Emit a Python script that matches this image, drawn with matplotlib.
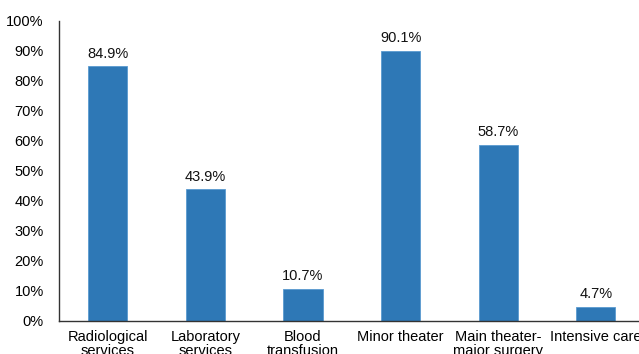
import matplotlib
matplotlib.use("Agg")
import matplotlib.pyplot as plt
from matplotlib.ticker import PercentFormatter

categories = ["Radiological\nservices", "Laboratory\nservices", "Blood\ntransfusion",
              "Minor theater", "Main theater-\nmajor surgery", "Intensive care"]
values = [84.9, 43.9, 10.7, 90.1, 58.7, 4.7]
yticks = [0, 10, 20, 30, 40, 50, 60, 70, 80, 90, 100]

plt.rcParams['font.family'] = ['Liberation Sans', 'DejaVu Sans']

W, H = 639, 354
fig = plt.figure(figsize=(W / 100, H / 100), dpi=100)
left, right = 59, 644.6
bottom, top = 354 - 320.7, 354 - 21
ax = fig.add_axes([left / W, bottom / H, (right - left) / W, (top - bottom) / H])

x = list(range(len(categories)))
bars = ax.bar(x, values, width=0.4, color="#2E78B6", edgecolor="#5A9AD0", linewidth=0.6, zorder=2)
for xi, v in zip(x, values):
    ax.annotate(f"{v:.1f}%", (xi, v), xytext=(0, 4), textcoords="offset points",
                ha="center", va="bottom", fontsize=10.5, color="#111111")

ax.set_xlim(-0.5, len(categories) - 0.5)
ax.set_ylim(0, 100)
ax.set_yticks(yticks)
ax.yaxis.set_major_formatter(PercentFormatter(decimals=0))
ax.set_xticks(x)
ax.set_xticklabels(categories, fontsize=10.5, linespacing=0.95)
ax.tick_params(axis="y", length=0, pad=11, labelsize=10.5)
ax.tick_params(axis="x", length=0, pad=7)
for s in ["top", "right"]:
    ax.spines[s].set_visible(False)
for s in ["left", "bottom"]:
    ax.spines[s].set_color("#333333")
    ax.spines[s].set_linewidth(1.0)

fig.savefig("out.png", dpi=100)
